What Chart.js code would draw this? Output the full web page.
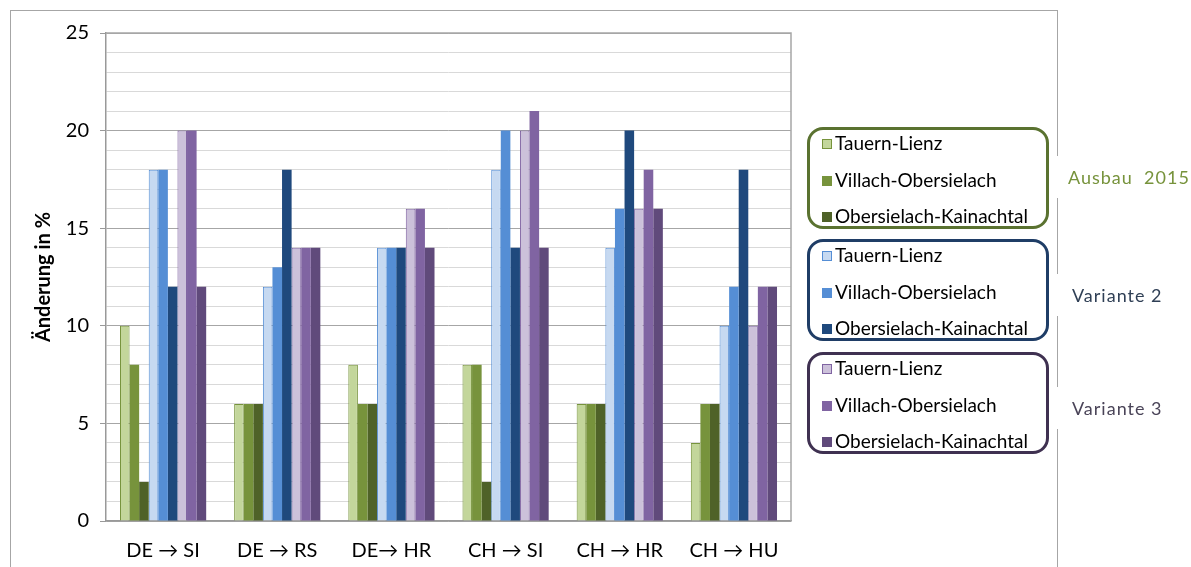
<!DOCTYPE html>
<html>
<head>
<meta charset="utf-8">
<script src="https://cdn.jsdelivr.net/npm/chart.js@4/dist/chart.umd.min.js"></script>
<style>
  body { margin: 0; background: #fff; font-family: Lato, sans-serif; }
  #page { position: relative; width: 1191px; height: 567px; overflow: hidden; }
  #frame { position: absolute; left: 10px; top: 10px; width: 1046px; height: 620px; border: 1.5px solid #a6a6a6; }
  canvas { position: absolute; left: 0; top: 0; }
  .grp { position: absolute; left: 807px; width: 236px; height: 96px; border: 3px solid; border-radius: 16px; background: #fff; }
  .item { position: absolute; left: 12px; font-size: 19px; color: #000; white-space: nowrap; line-height: 22px; }
  .sw { display: inline-block; width: 10px; height: 10px; margin-right: 3px; box-sizing: border-box; vertical-align: 1px; }
  .lab { position: absolute; left: 1050px; width: 141px; height: 42px; background: #fff; font-size: 18px; line-height: 42px; letter-spacing: 1px; white-space: pre; }
</style>
</head>
<body>
<div id="page">
  <div id="frame"></div>
  <canvas id="chart" width="1191" height="567"></canvas>
</div>
<script>
// data
const categories = ['DE \u2192 SI', 'DE \u2192 RS', 'DE\u2192 HR', 'CH \u2192 SI', 'CH \u2192 HR', 'CH \u2192 HU']
const sections = ['Tauern-Lienz', 'Villach-Obersielach', 'Obersielach-Kainachtal']
const variants = ['Ausbau  2015', 'Variante 2', 'Variante 3']

const ausbauTauern = [10, 6, 8, 8, 6, 4]
const ausbauVillach = [8, 6, 6, 8, 6, 6]
const ausbauKainach = [2, 6, 6, 2, 6, 6]
const var2Tauern = [18, 12, 14, 18, 14, 10]
const var2Villach = [18, 13, 14, 20, 16, 12]
const var2Kainach = [12, 18, 14, 14, 20, 18]
const var3Tauern = [20, 14, 16, 20, 16, 10]
const var3Villach = [20, 14, 16, 21, 18, 12]
const var3Kainach = [12, 14, 14, 14, 16, 12]

const series = [
    [ausbauTauern, ausbauVillach, ausbauKainach],
    [var2Tauern, var2Villach, var2Kainach],
    [var3Tauern, var3Villach, var3Kainach]
]

// colours per variant: light, mid, dark
const fills = [
    ['#c3d69b', '#77933c', '#4f6228'],
    ['#c6d9f1', '#558ed5', '#1f497d'],
    ['#ccc1da', '#8064a2', '#604a7b']
]
const frameColors = ['#5a7230', '#1f3d66', '#3f3151']
const labelColors = ['#77933c', '#2f3f55', '#4a4458']

const datasets = []
series.forEach((grp, g) => {
    grp.forEach((vals, s) => {
        datasets.push({
            label: sections[s],
            data: vals,
            backgroundColor: fills[g][s],
            borderColor: s === 0 ? fills[g][1] : fills[g][s],
            borderWidth: s === 0 ? 1 : 0
        })
    })
})

const plotFrame = {
    id: 'plotFrame',
    afterDraw(chart) {
        const a = chart.chartArea, c = chart.ctx
        c.save()
        c.strokeStyle = '#a6a6a6'
        c.lineWidth = 1.5
        c.beginPath()
        c.moveTo(a.left, a.top)
        c.lineTo(a.right, a.top)
        c.lineTo(a.right, a.bottom)
        c.stroke()
        c.restore()
    }
}

new Chart(document.getElementById('chart'), {
    type: 'bar',
    data: { labels: categories, datasets: datasets },
    plugins: [plotFrame],
    options: {
        responsive: false,
        animation: false,
        layout: { padding: { top: 33, right: 400, bottom: 0, left: 0 } },
        datasets: { bar: { categoryPercentage: 0.755, barPercentage: 1 } },
        plugins: { legend: { display: false }, tooltip: { enabled: false } },
        scales: {
            x: {
                grid: { display: false },
                border: { color: '#999', width: 1.5 },
                ticks: { color: '#000', font: { family: 'Lato', size: 20 }, padding: 10 },
                afterFit: s => { s.height = 46 }
            },
            y: {
                min: 0,
                max: 25,
                ticks: {
                    stepSize: 1,
                    autoSkip: false,
                    maxTicksLimit: 30,
                    color: '#000',
                    font: { family: 'Lato', size: 20 },
                    padding: 11,
                    callback: v => (v % 5 === 0 ? v : '')
                },
                grid: {
                    color: c => (c.tick && c.tick.value % 5 === 0 ? '#a6a6a6' : '#d9d9d9'),
                    tickColor: c => (c.tick && c.tick.value % 5 === 0 ? '#999' : 'rgba(0,0,0,0)'),
                    tickLength: 6
                },
                border: { color: '#999', width: 1.5 },
                title: {
                    display: true,
                    text: 'Änderung in %',
                    color: '#000',
                    font: { family: 'Lato', size: 20, weight: 'bold' },
                    padding: { top: 32, bottom: 0 }
                },
                afterFit: s => { s.width = 106 }
            }
        }
    }
})

// grouped legend, built from the same arrays
const page = document.getElementById('page')
const boxTops = [127, 239, 352]
const rowOffsets = [2, 39, 75]
const labelTops = [156, 274, 387]
variants.forEach((name, g) => {
    const box = document.createElement('div')
    box.className = 'grp'
    box.style.top = boxTops[g] + 'px'
    box.style.borderColor = frameColors[g]
    sections.forEach((sec, s) => {
        const it = document.createElement('div')
        it.className = 'item'
        it.style.top = rowOffsets[s] + 'px'
        const sw = document.createElement('span')
        sw.className = 'sw'
        sw.style.background = fills[g][s]
        if (s === 0) sw.style.border = '1px solid ' + fills[g][1]
        it.appendChild(sw)
        it.appendChild(document.createTextNode(sec))
        box.appendChild(it)
    })
    page.appendChild(box)

    const lab = document.createElement('div')
    lab.className = 'lab'
    lab.style.top = labelTops[g] + 'px'
    lab.style.color = labelColors[g]
    lab.style.paddingLeft = (g === 0 ? 18 : 22) + 'px'
    lab.style.width = (g === 0 ? 123 : 119) + 'px'
    lab.textContent = name
    page.appendChild(lab)
})
</script>
</body>
</html>
